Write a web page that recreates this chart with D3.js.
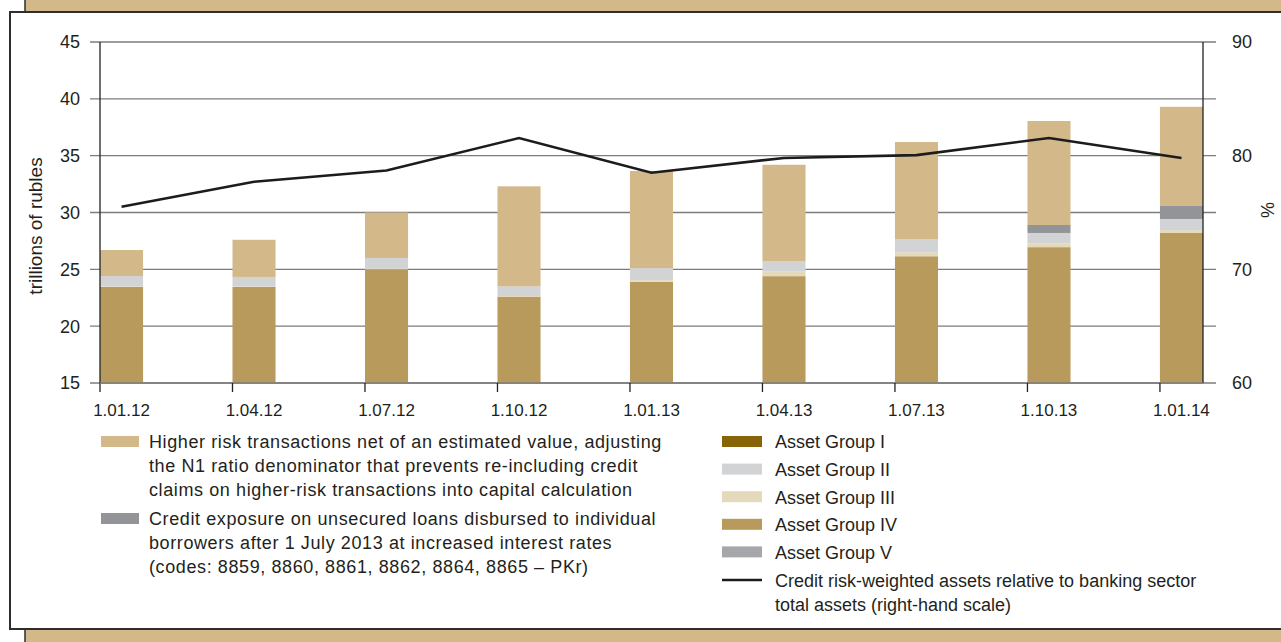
<!DOCTYPE html>
<html>
<head>
<meta charset="utf-8">
<script src="https://cdn.jsdelivr.net/npm/d3@7"></script>
<style>
  html, body { margin: 0; padding: 0; background: #fff; }
  svg { display: block; font-family: "Liberation Sans", Arial, sans-serif; }
</style>
</head>
<body>
<svg id="chart" width="1281" height="642"></svg>
<script>
// Reporting dates
const categories = ["1.01.12", "1.04.12", "1.07.12", "1.10.12", "1.01.13", "1.04.13", "1.07.13", "1.10.13", "1.01.14"];

// Credit risk-weighted assets by asset group, trillions of rubles
const groupI   = [0, 0, 0, 0, 0, 0, 0, 0, 0];
const groupIV  = [23.45, 23.45, 25.0, 22.6, 23.9, 24.4, 26.15, 26.95, 28.2];
const groupIII = [0.05, 0.05, 0.05, 0.05, 0.15, 0.4, 0.35, 0.35, 0.25];
const groupII  = [0.91, 0.83, 0.95, 0.85, 1.05, 0.93, 1.17, 0.9, 0.98];
const groupV   = [0, 0, 0, 0, 0, 0, 0, 0, 0];
const unsecuredLoans = [0, 0, 0, 0, 0, 0, 0, 0.7, 1.14];
const higherRisk = [2.29, 3.27, 4.0, 8.8, 8.55, 8.47, 8.53, 9.15, 8.73];

// Credit RWA relative to banking sector total assets, % (right-hand scale)
const rwaShare = [75.5, 77.7, 78.7, 81.55, 78.5, 79.8, 80.05, 81.55, 79.8];

// Axis ticks
const leftTicks = [15, 20, 25, 30, 35, 40, 45];
const rightTicks = [60, 70, 80, 90];

const C = {
  bg: "#d3b98a",
  frame: "#2e2e2e",
  grid: "#7c7c7c",
  axis: "#222",
  text: "#231f20",
  groupI: "#886408",
  groupII: "#d2d3d5",
  groupIII: "#e5d9bb",
  groupIV: "#b89a5c",
  groupV: "#a6a7aa",
  unsecured: "#939498",
  higherRisk: "#d3b98a",
  line: "#1c1c1c"
};

const svg = d3.select("#chart");

// Background card and white panel
svg.append("rect").attr("x", 25).attr("y", -40).attr("width", 1320).attr("height", 720)
  .attr("rx", 16).attr("fill", C.bg).attr("stroke", C.frame).attr("stroke-width", 1.5);
svg.append("rect").attr("x", 10).attr("y", 12).attr("width", 1300).attr("height", 617)
  .attr("fill", "#fff").attr("stroke", C.frame).attr("stroke-width", 2);

const plotL = 100, plotR = 1203, plotT = 42, plotB = 383;

const x = d3.scaleBand().domain(categories).range([plotL, plotR])
  .paddingInner(0.675).paddingOuter(0);
const y = d3.scaleLinear().domain([15, 45]).range([plotB, plotT]);
const yR = d3.scaleLinear().domain([60, 90]).range([plotB, plotT]);

// Horizontal grid with outer ticks on both sides
svg.append("g").selectAll("line").data(leftTicks).join("line")
  .attr("x1", plotL - 10).attr("x2", plotR + 13)
  .attr("y1", d => y(d)).attr("y2", d => y(d))
  .attr("stroke", C.grid).attr("stroke-width", 1.4);

// Stacked bars
const layers = [
  { key: "groupI", values: groupI, color: C.groupI },
  { key: "groupIV", values: groupIV, color: C.groupIV },
  { key: "groupIII", values: groupIII, color: C.groupIII },
  { key: "groupII", values: groupII, color: C.groupII },
  { key: "groupV", values: groupV, color: C.groupV },
  { key: "unsecured", values: unsecuredLoans, color: C.unsecured },
  { key: "higherRisk", values: higherRisk, color: C.higherRisk }
];
const rows = categories.map((c, i) => {
  const r = { cat: c };
  layers.forEach(l => { r[l.key] = l.values[i]; });
  return r;
});
const stack = d3.stack().keys(layers.map(l => l.key));
const series = stack(rows);

const barsG = svg.append("g");
series.forEach((s, si) => {
  barsG.append("g").attr("fill", layers[si].color)
    .selectAll("rect").data(s).join("rect")
    .attr("x", d => x(d.data.cat))
    .attr("width", x.bandwidth())
    .attr("y", d => y(Math.max(15, d[1])))
    .attr("height", d => Math.max(0, y(Math.max(15, d[0])) - y(Math.max(15, d[1]))));
});

// Axes lines
svg.append("line").attr("x1", plotL).attr("x2", plotL).attr("y1", plotT).attr("y2", plotB + 9)
  .attr("stroke", C.axis).attr("stroke-width", 1.3);
svg.append("line").attr("x1", plotR).attr("x2", plotR).attr("y1", plotT).attr("y2", plotB)
  .attr("stroke", C.axis).attr("stroke-width", 1.3);
svg.append("line").attr("x1", plotL).attr("x2", plotR).attr("y1", plotB).attr("y2", plotB)
  .attr("stroke", C.grid).attr("stroke-width", 1.4);

// Category ticks at band starts
svg.append("g").selectAll("line").data(categories.slice(1)).join("line")
  .attr("x1", d => x(d)).attr("x2", d => x(d))
  .attr("y1", plotB).attr("y2", plotB + 9)
  .attr("stroke", C.axis).attr("stroke-width", 1.3);

// Category labels
svg.append("g").selectAll("text").data(categories).join("text")
  .attr("x", d => x(d) + x.bandwidth() / 2).attr("y", plotB + 33)
  .attr("text-anchor", "middle").attr("font-size", 17).attr("fill", C.text)
  .text(d => d);

// Left tick labels
svg.append("g").selectAll("text").data(leftTicks).join("text")
  .attr("x", 80).attr("y", d => y(d)).attr("dy", "0.36em")
  .attr("text-anchor", "end").attr("font-size", 18).attr("fill", C.text)
  .text(d => d);

// Right tick labels
svg.append("g").selectAll("text").data(rightTicks).join("text")
  .attr("x", 1232).attr("y", d => yR(d)).attr("dy", "0.36em")
  .attr("text-anchor", "start").attr("font-size", 18).attr("fill", C.text)
  .text(d => d);

// Axis titles
svg.append("text").attr("transform", "translate(42,226) rotate(-90)")
  .attr("text-anchor", "middle").attr("font-size", 19).attr("fill", C.text)
  .text("trillions of rubles");
svg.append("text").attr("transform", "translate(1274,210) rotate(-90)")
  .attr("text-anchor", "middle").attr("font-size", 18).attr("fill", C.text)
  .text("%");

// Ratio line
const line = d3.line()
  .x((d, i) => x(categories[i]) + x.bandwidth() / 2)
  .y(d => yR(d));
svg.append("path").datum(rwaShare).attr("d", line)
  .attr("fill", "none").attr("stroke", C.line).attr("stroke-width", 2.6);

// Legend, left column
const legendFont = 18;
const leftLegend = [
  { color: C.higherRisk, y: 442, lines: [
    "Higher risk transactions net of an estimated value, adjusting",
    "the N1 ratio denominator that prevents re-including credit",
    "claims on higher-risk transactions into capital calculation"] },
  { color: C.unsecured, y: 519, lines: [
    "Credit exposure on unsecured loans disbursed to individual",
    "borrowers after 1 July 2013 at increased interest rates",
    "(codes: 8859, 8860, 8861, 8862, 8864, 8865 \u2013 PKr)"] }
];
const lg = svg.append("g");
leftLegend.forEach(item => {
  lg.append("rect").attr("x", 101).attr("y", item.y - 6).attr("width", 38).attr("height", 11)
    .attr("fill", item.color);
  const t = lg.append("text").attr("font-size", legendFont).attr("fill", C.text)
    .attr("letter-spacing", 0.6);
  item.lines.forEach((ln, i) => {
    t.append("tspan").attr("x", 149).attr("y", item.y + i * 23.7).attr("dy", "0.36em").text(ln);
  });
});

// Legend, right column
const rightLegend = [
  { color: C.groupI, label: "Asset Group I" },
  { color: C.groupII, label: "Asset Group II" },
  { color: C.groupIII, label: "Asset Group III" },
  { color: C.groupIV, label: "Asset Group IV" },
  { color: C.groupV, label: "Asset Group V" }
];
rightLegend.forEach((item, i) => {
  const yy = 442 + i * 27.6;
  lg.append("rect").attr("x", 722).attr("y", yy - 6).attr("width", 40).attr("height", 11)
    .attr("fill", item.color);
  lg.append("text").attr("x", 775).attr("y", yy).attr("dy", "0.36em")
    .attr("font-size", legendFont).attr("fill", C.text).text(item.label);
});
lg.append("line").attr("x1", 722).attr("x2", 762).attr("y1", 580).attr("y2", 580)
  .attr("stroke", C.line).attr("stroke-width", 2.6);
const lt = lg.append("text").attr("font-size", legendFont).attr("fill", C.text);
["Credit risk-weighted assets relative to banking sector", "total assets (right-hand scale)"]
  .forEach((ln, i) => {
    lt.append("tspan").attr("x", 775).attr("y", 581 + i * 23.7).attr("dy", "0.36em").text(ln);
  });
</script>
</body>
</html>
